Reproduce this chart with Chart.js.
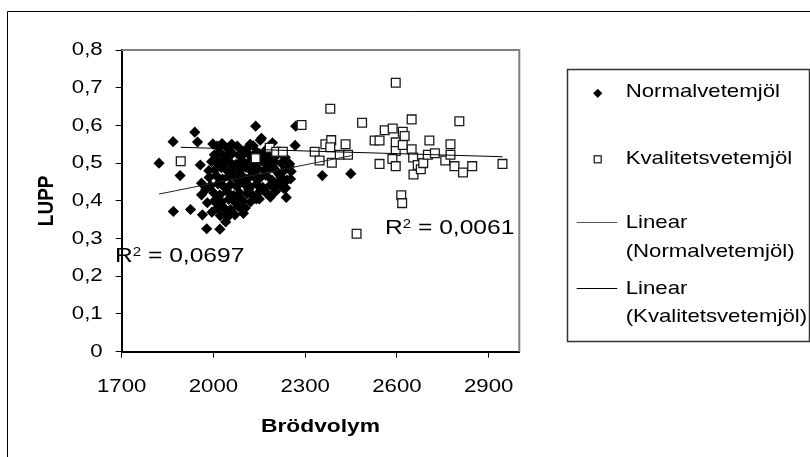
<!DOCTYPE html>
<html>
<head>
<meta charset="utf-8">
<script src="https://cdn.jsdelivr.net/npm/chart.js@4.4.1/dist/chart.umd.min.js"></script>
<style>
html,body{margin:0;padding:0;background:#fff;overflow:hidden}
canvas{display:block}
</style>
</head>
<body>
<canvas id="c" width="810" height="457"></canvas>
<script>
// ---------- data ----------
const seriesNames = ['Normalvetemjöl', 'Kvalitetsvetemjöl'];
const trendNames = ['Linear (Normalvetemjöl)', 'Linear (Kvalitetsvetemjöl)'];
const xTitle = 'Brödvolym';
const yTitle = 'LUPP';
const xTicks = [1700, 2000, 2300, 2600, 2900];
const yTicks = [0, 0.1, 0.2, 0.3, 0.4, 0.5, 0.6, 0.7, 0.8];
const r2Values = ['0,0697', '0,0061'];

const normalX = [
  1822,1868,1939,1948,1891,1957,2138,1869,1925,1961,1961,1964,1978,2021,2040,2070,2098,
  1998,2028,2057,2078,2110,2153,2157,2193,2267,2269,2222,2249,2254,2252,2236,2238,2186,
  2126,2356,2449,2248,2230,2010,2097,
  2012,2045,2095,2130,2175,2210,
  2003,2022,2042,2062,2083,2102,2121,2141,2162,2182,2201,
  1994,2016,2035,2055,2074,2094,2114,2134,2154,2174,2199,
  2006,2026,2046,2066,2086,2106,2125,2146,2166,2186,2207,
  1986,2009,2030,2050,2071,2090,2110,2131,2150,2171,2191,2220,
  1990,2015,2036,2056,2076,2100,2120,2141,2161,2186,2210,
  2001,2021,2046,2066,2086,2110,2151,2176,2203,
  2006,2027,2050,2071,2095,2121,2150,
  2012,2032,2056,2081,2104,
  2022,2046,2058,
  2160,2180,2195,2215,2230,2240,2225,2200,2170,2140,2115,2090,2060,2035,2010,1985,
  1975,1980,1995,2040,2075,2130,2100,2150,2235,2120,2060
];
const normalY = [
  0.500,0.557,0.582,0.556,0.467,0.495,0.598,0.372,0.377,0.447,0.416,0.363,0.326,0.325,0.344,0.363,0.367,
  0.551,0.552,0.547,0.545,0.539,0.561,0.566,0.554,0.547,0.598,0.500,0.498,0.478,0.458,0.434,0.409,0.410,
  0.416,0.467,0.472,0.491,0.433,0.393,0.376,
  0.545,0.540,0.532,0.546,0.538,0.530,
  0.522,0.528,0.518,0.526,0.521,0.527,0.519,0.530,0.522,0.527,0.516,
  0.504,0.498,0.508,0.502,0.497,0.507,0.501,0.495,0.508,0.499,0.504,
  0.483,0.488,0.479,0.486,0.481,0.489,0.478,0.485,0.480,0.487,0.478,
  0.462,0.467,0.458,0.466,0.461,0.469,0.457,0.465,0.459,0.468,0.455,0.463,
  0.440,0.445,0.436,0.443,0.438,0.446,0.437,0.444,0.436,0.442,0.447,
  0.421,0.416,0.424,0.414,0.421,0.419,0.425,0.418,0.425,
  0.402,0.398,0.404,0.396,0.401,0.397,0.405,
  0.380,0.384,0.377,0.385,0.381,
  0.361,0.357,0.368,
  0.505,0.515,0.490,0.470,0.480,0.455,0.445,0.435,0.425,0.405,0.430,0.455,0.475,0.495,0.510,0.480,
  0.430,0.395,0.370,0.375,0.410,0.470,0.495,0.525,0.515,0.550,0.550
];

const kvalX = [
  1893,2138,2184,2205,2227,2288,2331,2347,2366,2385,2382,2387,2382,2432,2413,2440,2468,
  2486,2527,2543,2543,2560,2586,2596,2596,2596,2585,2596,2619,2625,2619,2614,2617,2648,
  2648,2653,2654,2668,2678,2686,2701,2706,2724,2758,2775,2775,2788,2804,2816,2846,2945
];
const kvalY = [
  0.505,0.513,0.541,0.530,0.530,0.601,0.530,0.507,0.550,0.561,0.542,0.501,0.644,0.550,0.522,0.522,0.313,
  0.607,0.560,0.560,0.498,0.587,0.592,0.713,0.555,0.532,0.511,0.492,0.583,0.572,0.548,0.415,0.394,0.616,
  0.537,0.515,0.470,0.495,0.484,0.500,0.522,0.560,0.526,0.507,0.550,0.522,0.492,0.611,0.475,0.492,0.498
];

// trend line end points
const trendNormalX = [1822, 2451];
const trendNormalY = [0.418, 0.520];
const trendKvalX = [1893, 2945];
const trendKvalY = [0.542, 0.517];

// ---------- rendering ----------
const FONT = '"Liberation Sans", Arial, sans-serif';
const TEXT_STRETCH = 1.2;

const canvas = document.getElementById('c');
const ctx = canvas.getContext('2d');
(function stretchText(c) {
  const orig = CanvasRenderingContext2D.prototype.fillText;
  c.fillText = function (text, x, y, maxWidth) {
    const m = this.getTransform();
    const p = m.transformPoint(new DOMPoint(x, y));
    this.save();
    this.setTransform(new DOMMatrix().translate(p.x, p.y).scale(TEXT_STRETCH, 1).translate(-p.x, -p.y).multiply(m));
    if (maxWidth === undefined) orig.call(this, text, x, y); else orig.call(this, text, x, y, maxWidth);
    this.restore();
  };
})(ctx);

const zip = (xs, ys) => xs.map((x, i) => ({ x: x, y: ys[i] }));
const fmtY = v => (v === 0 ? '0' : v.toFixed(1).replace('.', ','));

const deco = {
  id: 'deco',
  beforeDatasetsDraw(chart) {
    const c = chart.ctx, a = chart.chartArea;
    c.save();
    c.strokeStyle = '#808080';
    c.lineWidth = 2;
    c.beginPath();
    c.moveTo(a.left, a.top);
    c.lineTo(a.right, a.top);
    c.lineTo(a.right, a.bottom);
    c.stroke();
    c.restore();
  },
  afterDraw(chart) {
    const c = chart.ctx;
    c.save();
    // outer frame
    c.strokeStyle = '#000';
    c.lineWidth = 1;
    c.beginPath();
    c.moveTo(7.5, 470);
    c.lineTo(7.5, 11.5);
    c.lineTo(820, 11.5);
    c.stroke();

    // legend box
    c.strokeStyle = '#333';
    c.lineWidth = 1.5;
    c.strokeRect(567.5, 69.5, 242, 272);

    // legend markers
    c.fillStyle = '#000';
    c.beginPath();
    c.moveTo(597.7, 93.3 - 4.6);
    c.lineTo(597.7 + 4.6, 93.3);
    c.lineTo(597.7, 93.3 + 4.6);
    c.lineTo(597.7 - 4.6, 93.3);
    c.closePath();
    c.fill();
    c.fillStyle = '#fff';
    c.strokeStyle = '#111';
    c.lineWidth = 1.2;
    c.fillRect(594.2, 155.8, 7, 7);
    c.strokeRect(594.2, 155.8, 7, 7);

    c.lineWidth = 1;
    c.strokeStyle = '#555';
    c.beginPath(); c.moveTo(576.7, 222.5); c.lineTo(617.3, 222.5); c.stroke();
    c.strokeStyle = '#000';
    c.beginPath(); c.moveTo(576.7, 288.5); c.lineTo(617.3, 288.5); c.stroke();

    // legend texts
    c.fillStyle = '#000';
    c.font = '18.5px ' + FONT;
    c.textAlign = 'left';
    c.textBaseline = 'alphabetic';
    const tx = 625.7;
    c.fillText(seriesNames[0], tx, 97.3);
    c.fillText(seriesNames[1], tx, 164);
    const t0 = trendNames[0].split(' ');
    const t1 = trendNames[1].split(' ');
    c.fillText(t0[0], tx, 228.3);
    c.fillText(t0[1], tx, 256.7);
    c.fillText(t1[0], tx, 294);
    c.fillText(t1[1], tx, 321.7);

    // R² labels
    const drawR2 = (x, base, val) => {
      c.font = '20.5px ' + FONT;
      c.fillText('R', x, base);
      let cx = x + c.measureText('R').width * TEXT_STRETCH;
      c.font = '12.5px ' + FONT;
      c.fillText('2', cx, base - 5.8);
      cx += c.measureText('2').width * TEXT_STRETCH;
      c.font = '20.5px ' + FONT;
      c.fillText(' = ' + val, cx, base);
    };
    drawR2(115, 261.7, r2Values[0]);
    drawR2(385, 234, r2Values[1]);
    c.restore();
  }
};

new Chart(ctx, {
  type: 'scatter',
  data: {
    datasets: [
      {
        label: seriesNames[0],
        data: zip(normalX, normalY),
        pointStyle: 'rectRot',
        pointRadius: 5.6,
        backgroundColor: '#000',
        borderColor: '#000',
        borderWidth: 0,
        order: 4
      },
      {
        label: seriesNames[1],
        data: zip(kvalX, kvalY),
        pointStyle: 'rect',
        pointRadius: 6.2,
        backgroundColor: '#fff',
        borderColor: '#1a1a1a',
        borderWidth: 1.3,
        order: 3
      },
      {
        label: trendNames[0],
        data: zip(trendNormalX, trendNormalY),
        showLine: true,
        pointRadius: 0,
        borderColor: '#222',
        borderWidth: 1,
        fill: false,
        order: 2
      },
      {
        label: trendNames[1],
        data: zip(trendKvalX, trendKvalY),
        showLine: true,
        pointRadius: 0,
        borderColor: '#000',
        borderWidth: 1,
        fill: false,
        order: 1
      }
    ]
  },
  options: {
    responsive: false,
    animation: false,
    events: [],
    layout: { padding: { left: 0, top: 50, right: 290.7, bottom: 0 } },
    plugins: { legend: { display: false }, tooltip: { enabled: false } },
    scales: {
      x: {
        type: 'linear',
        min: 1700,
        max: 3000,
        afterBuildTicks: axis => { axis.ticks = xTicks.map(v => ({ value: v })); },
        afterFit: s => { s.height = 105.3; },
        ticks: {
          color: '#000',
          font: { family: FONT, size: 18.5 },
          padding: 18,
          maxRotation: 0,
          autoSkip: false,
          callback: v => String(v)
        },
        grid: { display: true, drawOnChartArea: false, drawTicks: true, tickLength: 6, color: '#000', lineWidth: 1 },
        border: { display: true, color: '#000', width: 2 },
        title: {
          display: true,
          text: xTitle,
          color: '#000',
          font: { family: FONT, size: 19, weight: 'bold' },
          padding: { top: 0, bottom: 19 }
        }
      },
      y: {
        type: 'linear',
        min: 0,
        max: 0.8,
        afterBuildTicks: axis => { axis.ticks = yTicks.map(v => ({ value: v })); },
        afterFit: s => { s.width = 121.7; },
        ticks: {
          color: '#000',
          font: { family: FONT, size: 18.5 },
          padding: 13,
          autoSkip: false,
          callback: v => fmtY(v)
        },
        grid: { display: true, drawOnChartArea: false, drawTicks: true, tickLength: 6, color: '#000', lineWidth: 1 },
        border: { display: true, color: '#000', width: 2 },
        title: {
          display: true,
          text: yTitle,
          color: '#000',
          font: { family: FONT, size: 19, weight: 'bold' },
          padding: { top: 35, bottom: 0 }
        }
      }
    }
  },
  plugins: [deco]
});
</script>
</body>
</html>
